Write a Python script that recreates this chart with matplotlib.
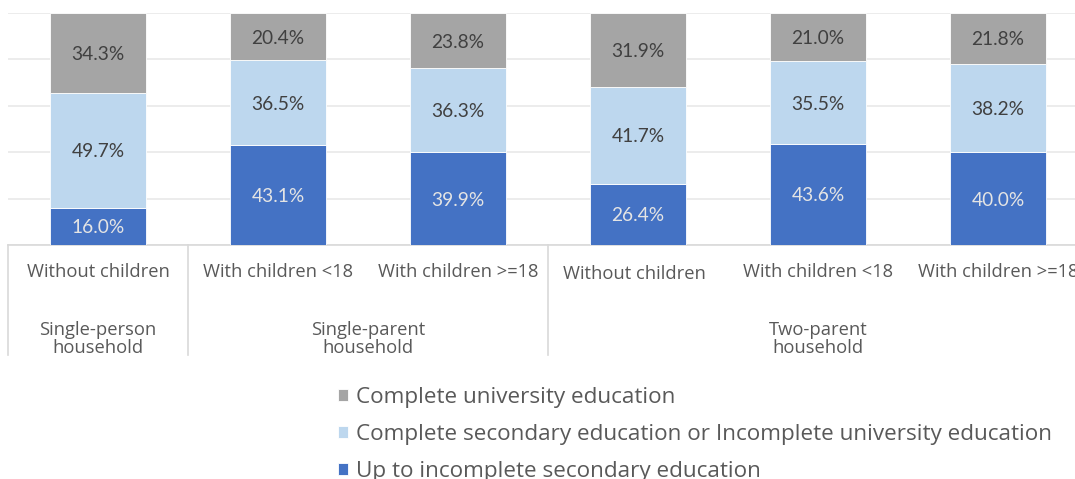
import numpy as np
import matplotlib
matplotlib.use("Agg")
import matplotlib.pyplot as plt

plt.rcParams['font.family'] = ['Open Sans', 'DejaVu Sans']

subgroups = ["Without children", "With children <18", "With children >=18",
             "Without children", "With children <18", "With children >=18"]
groups = ["Single-person\nhousehold", "Single-parent\nhousehold", "Two-parent\nhousehold"]
group_sizes = [1, 2, 3]

series_names = ["Up to incomplete secondary education",
                "Complete secondary education or Incomplete university education",
                "Complete university education"]
up_to_secondary = [16.0, 43.1, 39.9, 26.4, 43.6, 40.0]
secondary_or_uni = [49.7, 36.5, 36.3, 41.7, 35.5, 38.2]
university = [34.3, 20.4, 23.8, 31.9, 21.0, 21.8]

colors = ["#4472C4", "#BDD7EE", "#A5A5A5"]
label_colors = ["#E4E4E4", "#404040", "#404040"]

W, H = 1075, 479
fig = plt.figure(figsize=(W / 100, H / 100), dpi=100)
# plot area runs past the right edge of the figure
ax = fig.add_axes([8 / W, (H - 245) / H, 1080 / W, 232 / H])

x = np.arange(len(subgroups))
bottom = np.zeros(len(subgroups))
bars = []
for vals, col, lc, name in zip([up_to_secondary, secondary_or_uni, university],
                               colors, label_colors, series_names):
    vals = np.array(vals)
    b = ax.bar(x, vals, 0.53, bottom=bottom, color=col, edgecolor="white",
               linewidth=0.6, label=name, zorder=3)
    texts = ax.bar_label(b, labels=[f"{v:.1f}%" for v in vals],
                         label_type="center", color=lc, fontsize=13.8,
                         family=['Lato', 'DejaVu Sans'])
    for t in texts:
        t.set_va("center_baseline")
    bars.append(b)
    bottom += vals

ax.set_xlim(-0.5, len(subgroups) - 0.5)
ax.set_ylim(0, 100)
ax.set_yticks(np.arange(0, 101, 20))
ax.yaxis.grid(True, color="#E9E9E9", linewidth=1.2, zorder=0)
ax.tick_params(left=False, labelleft=False, bottom=False, labelbottom=False)
for s in ["left", "right", "top"]:
    ax.spines[s].set_visible(False)
ax.spines["bottom"].set_color("#D9D9D9")
ax.spines["bottom"].set_linewidth(1.2)

# two-level category axis drawn in axes data coords
trans = ax.get_xaxis_transform()
px = 1 / 232  # one pixel in axes-height units
for i, lab in enumerate(subgroups):
    dx, dy = (-0.02, 2) if i == 3 else (0, 0)
    ax.text(i + dx, -(27 + dy) * px, lab, transform=trans, ha="center",
            va="center", fontsize=13.2, color="#595959", clip_on=False)

start = 0
for g, n in zip(groups, group_sizes):
    ax.plot([start - 0.5, start - 0.5], [0, -110 * px], transform=trans,
            color="#D9D9D9", linewidth=1.2, clip_on=False)
    ax.text(start + (n - 1) / 2, -94 * px, g, transform=trans, ha="center",
            va="center", fontsize=13.2, color="#595959", linespacing=0.95,
            clip_on=False)
    start += n

handles = bars[::-1]
fig.legend(handles, [h.get_label() for h in handles], loc="upper left",
           bbox_to_anchor=(338 / W, 1 - 387 / H), frameon=False,
           fontsize=16.2, labelcolor="#595959", handlelength=0.45,
           handleheight=0.45, handletextpad=0.35, labelspacing=0.72,
           borderpad=0, borderaxespad=0)

fig.savefig("out.png", dpi=100)
